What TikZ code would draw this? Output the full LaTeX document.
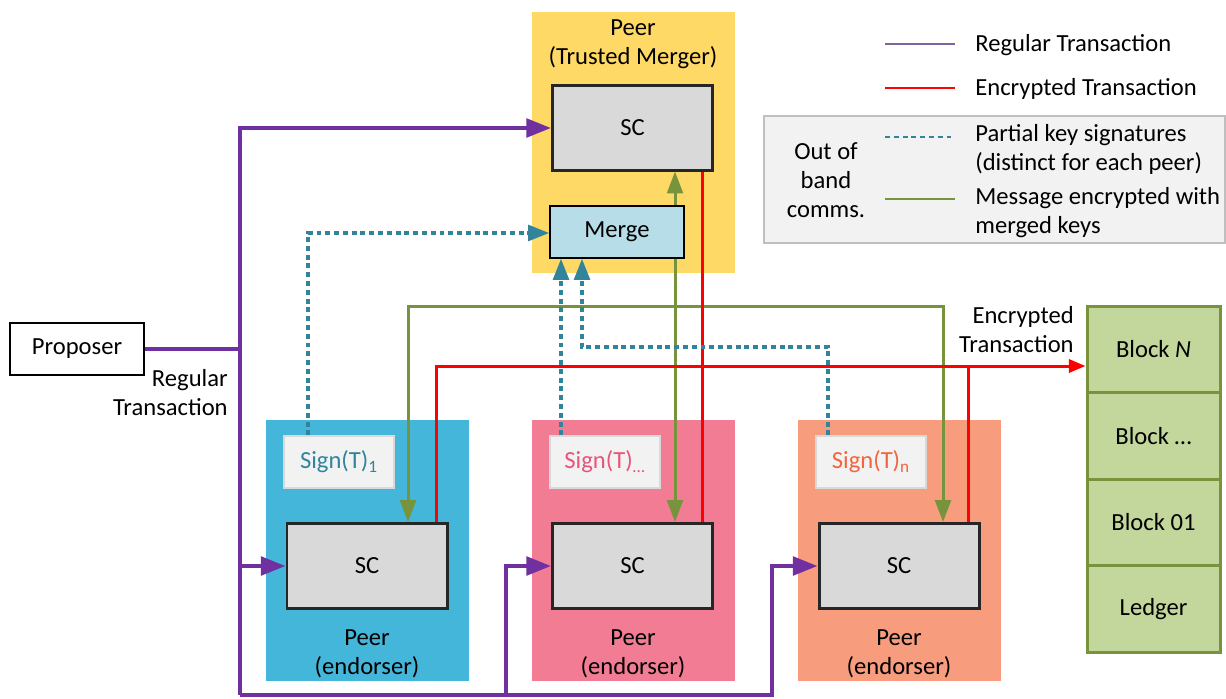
\documentclass[tikz,border=0pt]{standalone}
\usepackage{fontspec}
\setmainfont{Carlito}
\usetikzlibrary{arrows.meta}
\definecolor{purp}{HTML}{7030A0}
\definecolor{purplg}{HTML}{8064A2}
\definecolor{redl}{HTML}{FF0000}
\definecolor{grn}{HTML}{77933C}
\definecolor{tealc}{HTML}{31849B}
\definecolor{cyel}{HTML}{FFD966}
\definecolor{cblue}{HTML}{44B6D9}
\definecolor{cpink}{HTML}{F17C94}
\definecolor{csalm}{HTML}{F89C7E}
\definecolor{scfill}{HTML}{D9D9D9}
\definecolor{scdraw}{HTML}{262626}
\definecolor{mfill}{HTML}{B7DEE8}
\definecolor{lfill}{HTML}{C3D69B}
\definecolor{sgfill}{HTML}{F2F2F2}
\definecolor{sgdraw}{HTML}{D9D9D9}
\definecolor{lgdraw}{HTML}{BFBFBF}
\definecolor{pinktx}{HTML}{E8557A}
\definecolor{salmtx}{HTML}{F0663E}
\begin{document}
\begin{tikzpicture}[x=0.02cm,y=-0.02cm,
  font=\fontsize{14}{16.5}\selectfont,
  peerbg/.style={draw=none,inner sep=0pt,minimum width=203*0.02cm,minimum height=261*0.02cm},
  scbox/.style={draw=scdraw,line width=1.7pt,fill=scfill,inner sep=0pt,minimum width=160*0.02cm,minimum height=85*0.02cm},
  signbox/.style={draw=sgdraw,line width=0.8pt,fill=sgfill,inner sep=0pt,minimum width=110*0.02cm,minimum height=52*0.02cm},
  cell/.style={draw=grn,line width=1.7pt,fill=lfill,inner sep=0pt,minimum width=133*0.02cm,minimum height=86.5*0.02cm},
  lbl/.style={align=center,inner sep=0pt},
  purpline/.style={draw=purp,line width=2.3pt},
  purparr/.style={purpline,-{Triangle[length=14pt,width=10.5pt]}},
  redline/.style={draw=redl,line width=1.7pt},
  redarr/.style={redline,-{Triangle[length=9.5pt,width=7.5pt]}},
  grnline/.style={draw=grn,line width=1.7pt},
  grnarr/.style={grnline,-{Triangle[length=12.5pt,width=9pt]}},
  tealline/.style={draw=tealc,line width=1.8pt,dash pattern=on 2.8pt off 2.2pt},
  tealarr/.style={tealline,-{Triangle[length=12pt,width=9pt]}},
  legline/.style={line width=1.5pt}
]
\useasboundingbox (0,0) rectangle (1226,698);

% backgrounds
\node[peerbg,fill=cyel] (tm) at (633.5,142.5) {};
\node[peerbg,fill=cblue] (p1) at (367.5,550.5) {};
\node[peerbg,fill=cpink] (p2) at (633.5,550.5) {};
\node[peerbg,fill=csalm] (p3) at (899.5,550.5) {};

\node[lbl] (tmlbl) at (633,44) {Peer\\(Trusted Merger)};
\node[lbl] (p1lbl) at (367,654) {Peer\\(endorser)};
\node[lbl] (p2lbl) at (633,654) {Peer\\(endorser)};
\node[lbl] (p3lbl) at (899,654) {Peer\\(endorser)};

% boxes
\node[scbox] (sct) at (632.5,127.5) {SC};
\node[draw=black,line width=0.9pt,fill=mfill,inner sep=0pt,minimum width=134*0.02cm,minimum height=52*0.02cm] (merge) at (617,232) {Merge};
\node[scbox] (sc1) at (367,566) {SC};
\node[scbox] (sc2) at (632.5,566) {SC};
\node[scbox] (sc3) at (899,566) {SC};
\node[signbox,text=tealc] (sg1) at (339,462) {Sign(T)\textsubscript{1}};
\node[signbox,text=pinktx] (sg2) at (605,462) {Sign(T)\textsubscript{…}};
\node[signbox,text=salmtx] (sg3) at (871,462) {Sign(T)\textsubscript{n}};

\node[draw=black,line width=0.8pt,inner sep=0pt,minimum width=134*0.02cm,minimum height=52*0.02cm] (prop) at (77,349) {Proposer};

% ledger
\node[cell] (bN) at (1153.5,349.5) {Block \textit{N}};
\node[cell] (bD) at (1153.5,436) {Block …};
\node[cell] (b01) at (1153.5,522.5) {Block 01};
\node[cell] (led) at (1153.5,609) {Ledger};

\node[lbl,align=right,anchor=east] (enclbl) at (1074,330) {Encrypted\\Transaction};
\node[lbl,align=right,anchor=east] (reglbl) at (228,393) {Regular\\Transaction};

% legend
\node[draw=lgdraw,line width=0.8pt,fill=sgfill,inner sep=0pt,minimum width=461*0.02cm,minimum height=127*0.02cm] (lgbox) at (994.5,179.5) {};
\node[lbl] (oob) at (826,180) {Out of\\band\\comms.};
\coordinate (l1a) at (885,44); \coordinate (l1b) at (955,44);
\coordinate (l2a) at (885,88); \coordinate (l2b) at (955,88);
\coordinate (l3a) at (885,137); \coordinate (l3b) at (955,137);
\coordinate (l4a) at (885,199); \coordinate (l4b) at (955,199);
\draw[legline,draw=purplg] (l1a) -- (l1b);
\draw[legline,draw=redl] (l2a) -- (l2b);
\draw[legline,draw=tealc,dash pattern=on 2.8pt off 2.2pt] (l3a) -- (l3b);
\draw[legline,draw=grn] (l4a) -- (l4b);
\node[lbl,anchor=west] (lt1) at (975,45) {Regular Transaction};
\node[lbl,anchor=west] (lt2) at (975,89) {Encrypted Transaction};
\node[lbl,anchor=west,align=left] (lt3) at (975,149) {Partial key signatures\\(distinct for each peer)};
\node[lbl,anchor=west,align=left] (lt4) at (975,213) {Message encrypted with\\merged keys};

% purple connectors
\coordinate (j1) at (240,349);
\coordinate (jtop) at (240,128);
\coordinate (jmid) at (240,566);
\coordinate (jbot) at (240,695);
\coordinate (b2) at (506,695);
\coordinate (b3) at (772,695);
\draw[purpline] (prop.east) -- (j1);
\draw[purparr,line join=miter] (jbot) -- (jtop) -- (jtop -| sct.west);
\draw[purparr] (jmid) -- (sc1.west);
\draw[purparr,line join=miter] (jbot) -- (b3) -- (b3 |- sc3.west) -- (sc3.west);
\draw[purparr,line join=miter] (b2) -- (b2 |- sc2.west) -- (sc2.west);

% green connectors
\coordinate (gv) at (675,306);
\coordinate (gl) at (408,306);
\coordinate (gr) at (943,306);
\draw[grnarr] (merge.north -| gv) -- (sct.south -| gv);
\draw[grnarr] (merge.south -| gv) -- (sc2.north -| gv);
\draw[grnarr] (gv) -- (gl) -- (gl |- sc1.north);
\draw[grnarr] (gv) -- (gr) -- (gr |- sc3.north);

% red connectors
\coordinate (rv) at (702,366);
\coordinate (rl) at (436,366);
\coordinate (rr) at (968,366);
\draw[redline] (sct.south -| rv) -- (sc2.north -| rv);
\draw[redarr] (rl |- sc1.north) -- (rl) -- (rl -| bN.west);
\draw[redline] (rr) -- (rr |- sc3.north);

% teal dotted connectors
\coordinate (t1) at (308,233);
\coordinate (t2) at (561,300);
\coordinate (t3a) at (828,347);
\coordinate (t3b) at (582,347);
\draw[tealarr] (sg1.north -| t1) -- (t1) -- (t1 -| merge.west);
\draw[tealarr] (sg2.north -| t2) -- (merge.south -| t2);
\draw[tealarr] (sg3.north -| t3a) -- (t3a) -- (t3b) -- (merge.south -| t3b);
\end{tikzpicture}
\end{document}
